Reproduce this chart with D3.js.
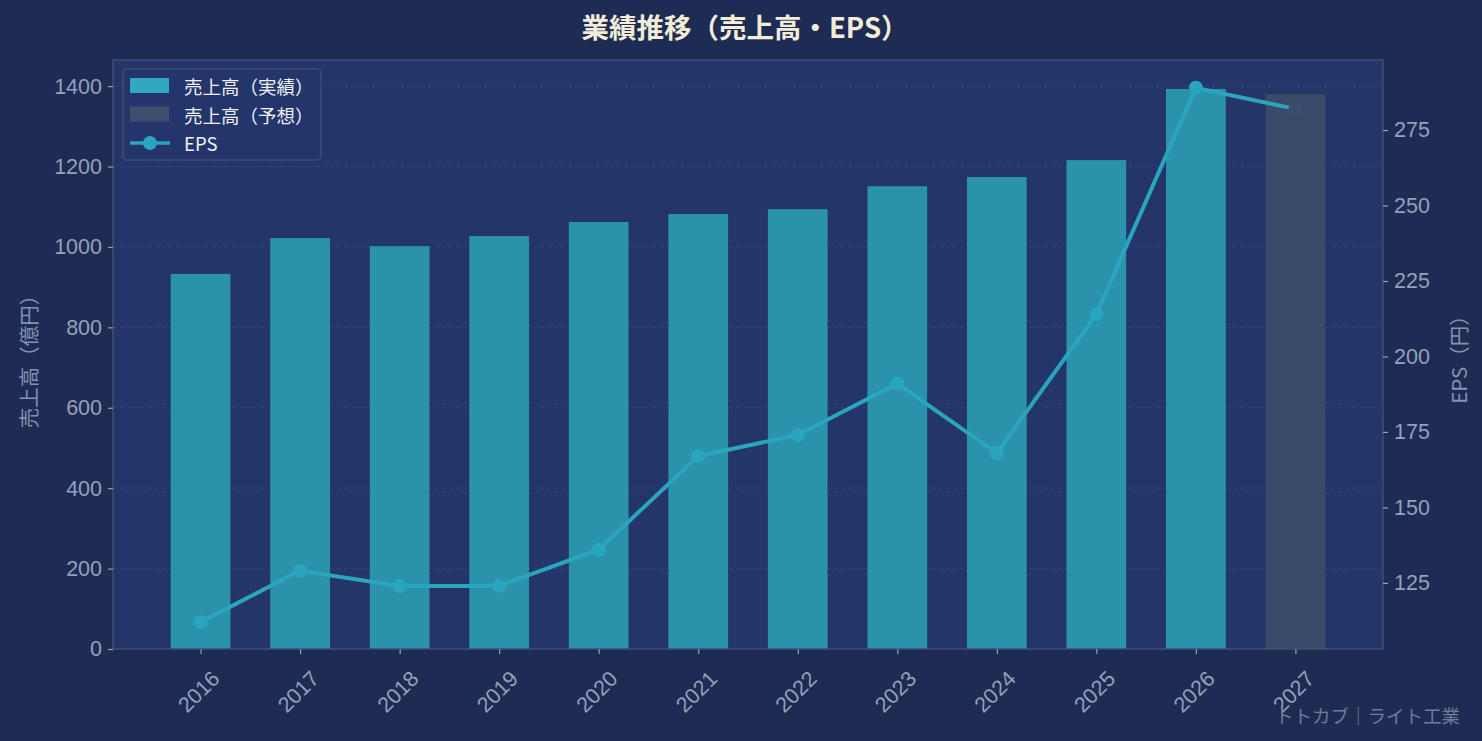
<!DOCTYPE html>
<html>
<head>
<meta charset="utf-8">
<script src="https://cdn.jsdelivr.net/npm/d3@7"></script>
<style>
  html, body { margin: 0; padding: 0; background: #1e2b53; }
  svg { display: block; font-family: 'Noto Sans CJK JP', 'Noto Sans', sans-serif; }
</style>
</head>
<body>
<div id="chart"></div>
<script>
// Data
const years = ['2016', '2017', '2018', '2019', '2020', '2021', '2022', '2023', '2024', '2025', '2026', '2027'];
const sales = [933, 1022, 1002, 1027, 1062, 1082, 1094, 1151, 1174, 1216, 1393, 1380];
const isForecast = [false, false, false, false, false, false, false, false, false, false, false, true];
const eps = [112, 129, 124, 124, 136, 167, 174, 191, 168, 214, 289, 282];
const salesTicks = [0, 200, 400, 600, 800, 1000, 1200, 1400];
const epsTicks = [125, 150, 175, 200, 225, 250, 275];

const W = 1482, H = 741;
const margin = { top: 60, right: 99, bottom: 92, left: 113 };
const width = W - margin.left - margin.right;
const height = H - margin.top - margin.bottom;

const colors = {
  bg: '#1e2b53',
  plot: '#24356a',
  bar: '#2b92ab',
  barForecast: '#3a4a6b',
  line: '#2ba5bf',
  grid: '#33467a',
  spine: '#3e4f73',
  tick: '#95a0bd',
  label: '#8391b2',
  title: '#f2ecd9',
};

const svg = d3.select('#chart').append('svg')
  .attr('width', W)
  .attr('height', H);

svg.append('rect').attr('width', W).attr('height', H).attr('fill', colors.bg);

const g = svg.append('g').attr('transform', `translate(${margin.left},${margin.top})`);

g.append('rect').attr('width', width).attr('height', height).attr('fill', colors.plot);

// Scales (matplotlib-like margins around the bars)
const x = d3.scaleLinear().domain([-0.88, years.length - 1 + 0.88]).range([0, width]);
const barW = x(0.6) - x(0);
const ySales = d3.scaleLinear().domain([0, 1465]).range([height, 0]);
const yEps = d3.scaleLinear().domain([103.1, 298.2]).range([height, 0]);

// Grid (left axis)
g.selectAll('.grid').data(salesTicks.slice(1)).enter().append('line')
  .attr('x1', 0).attr('x2', width)
  .attr('y1', (d) => ySales(d)).attr('y2', (d) => ySales(d))
  .attr('stroke', colors.grid)
  .attr('stroke-width', 1)
  .attr('stroke-dasharray', '4,3');

// Bars
g.selectAll('.bar').data(years).enter().append('rect')
  .attr('x', (d, i) => x(i) - barW / 2)
  .attr('y', (d, i) => ySales(sales[i]))
  .attr('width', barW)
  .attr('height', (d, i) => height - ySales(sales[i]))
  .attr('fill', (d, i) => (isForecast[i] ? colors.barForecast : colors.bar));

// EPS line
const line = d3.line()
  .x((d, i) => x(i))
  .y((d) => yEps(d));

g.append('path')
  .datum(eps)
  .attr('d', line)
  .attr('fill', 'none')
  .attr('stroke', colors.line)
  .attr('stroke-width', 4);

g.selectAll('.pt').data(eps).enter().append('circle')
  .attr('cx', (d, i) => x(i))
  .attr('cy', (d) => yEps(d))
  .attr('r', 7)
  .attr('fill', (d, i) => (isForecast[i] ? '#3c4c6e' : colors.line));

// Spines
g.append('rect').attr('width', width).attr('height', height)
  .attr('fill', 'none').attr('stroke', colors.spine).attr('stroke-width', 1.5);

// Axes
const leftAxis = g.append('g')
  .call(d3.axisLeft(ySales).tickValues(salesTicks).tickFormat(d3.format('d')).tickSize(5).tickPadding(6));
const rightAxis = g.append('g')
  .attr('transform', `translate(${width},0)`)
  .call(d3.axisRight(yEps).tickValues(epsTicks).tickFormat(d3.format('d')).tickSize(5).tickPadding(6));
const bottomAxis = g.append('g')
  .attr('transform', `translate(0,${height})`)
  .call(d3.axisBottom(x).tickValues(d3.range(years.length)).tickFormat((i) => years[i]).tickSize(5));

[leftAxis, rightAxis, bottomAxis].forEach((ax) => {
  ax.select('.domain').remove();
  ax.selectAll('line').attr('stroke', colors.tick).attr('stroke-width', 1.2);
  ax.selectAll('text').attr('fill', colors.tick).style('font-size', '21.5px');
});

bottomAxis.selectAll('text')
  .attr('text-anchor', 'middle')
  .attr('dominant-baseline', 'central')
  .attr('dy', null)
  .attr('y', 0)
  .attr('transform', 'translate(-2,43) rotate(-45)');

// Axis labels
svg.append('text')
  .attr('transform', `translate(28,${margin.top + height / 2 + 2}) rotate(-90)`)
  .attr('text-anchor', 'middle')
  .attr('dominant-baseline', 'central')
  .attr('fill', colors.label)
  .style('font-size', '20.5px')
  .text('売上高（億円）');

svg.append('text')
  .attr('transform', `translate(1458,${margin.top + height / 2}) rotate(-90)`)
  .attr('text-anchor', 'middle')
  .attr('dominant-baseline', 'central')
  .attr('fill', colors.label)
  .style('font-size', '20.5px')
  .text('EPS（円）');

// Title
svg.append('text')
  .attr('x', W / 2 + 4)
  .attr('y', 26)
  .attr('text-anchor', 'middle')
  .attr('dominant-baseline', 'central')
  .attr('fill', colors.title)
  .style('font-size', '27.5px')
  .style('font-weight', 'bold')
  .text('業績推移（売上高・EPS）');

// Legend
const legend = g.append('g').attr('transform', 'translate(10,9)');
legend.append('rect')
  .attr('width', 198).attr('height', 91).attr('rx', 4)
  .attr('fill', colors.plot).attr('fill-opacity', 0.9)
  .attr('stroke', '#3c4d75').attr('stroke-width', 1.5);

const legendItems = [
  { label: '売上高（実績）', type: 'bar', color: '#31a8c0' },
  { label: '売上高（予想）', type: 'bar', color: '#3e4e6e' },
  { label: 'EPS', type: 'line', color: colors.line },
];

legendItems.forEach((item, i) => {
  const row = legend.append('g').attr('transform', `translate(0,${17 + i * 28.5})`);
  if (item.type === 'bar') {
    row.append('rect').attr('x', 7).attr('y', -8).attr('width', 39).attr('height', 15).attr('fill', item.color);
  } else {
    row.append('line').attr('x1', 7).attr('x2', 47).attr('y1', 0).attr('y2', 0)
      .attr('stroke', item.color).attr('stroke-width', 3.5);
    row.append('circle').attr('cx', 27).attr('cy', 0).attr('r', 7).attr('fill', item.color);
  }
  row.append('text')
    .attr('x', 61).attr('y', 0)
    .attr('dominant-baseline', 'central')
    .attr('fill', '#eef0f4')
    .style('font-size', '18.5px')
    .text(item.label);
});

// Watermark
svg.append('text')
  .attr('x', 1460)
  .attr('y', 715)
  .attr('text-anchor', 'end')
  .attr('dominant-baseline', 'central')
  .attr('fill', '#6f7c9c')
  .style('font-size', '18.5px')
  .text('トトカブ｜ライト工業');
</script>
</body>
</html>
